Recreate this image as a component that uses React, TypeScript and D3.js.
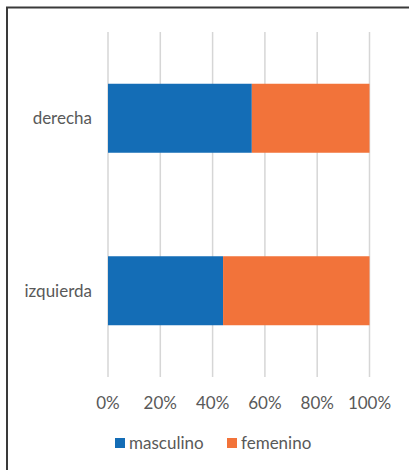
import React from "react";
import * as d3 from "d3";

const categories = ["derecha", "izquierda"];
const seriesNames = ["masculino", "femenino"];
const masculino = [0.55, 0.44];
const femenino = [0.45, 0.56];
const tickValues = [0, 0.2, 0.4, 0.6, 0.8, 1.0];
const colors = ["#146db6", "#f2733a"];

const W = 409;
const H = 470;
const FONT = "Lato, 'Open Sans', sans-serif";
const TEXT = "#595959";

export default function App() {
  const x = d3.scaleLinear().domain([0, 1]).range([108, 369.5]);
  const y = d3.scaleBand<string>().domain(categories).range([32, 377]).padding(0);
  const barH = y.bandwidth() * 0.4;
  const rows = categories.map((c, i) => ({ c, vals: [masculino[i], femenino[i]] }));
  const fmt = d3.format(".0%");

  return (
    <svg width={W} height={H} style={{ position: "absolute", left: 0, top: 0, display: "block" }} fontFamily={FONT}>
      <rect x={0} y={0} width={W} height={H} fill="#ffffff" />
      <rect x={7} y={7.5} width={W + 20} height={H + 20} fill="#ffffff" stroke="#3a3a3a" strokeWidth={2} />
      {tickValues.map((t) => (
        <line key={t} x1={x(t)} x2={x(t)} y1={32} y2={377} stroke="#d6d6d6" strokeWidth={1.5} />
      ))}
      {rows.map((r) => {
        let acc = 0;
        const yc = (y(r.c) as number) + y.bandwidth() / 2;
        return (
          <g key={r.c}>
            {r.vals.map((v, j) => {
              const x0 = x(acc);
              acc += v;
              const x1 = x(acc);
              return <rect key={j} x={x0} y={yc - barH / 2} width={x1 - x0} height={barH} fill={colors[j]} />;
            })}
            <text x={92} y={yc} dy="0.35em" textAnchor="end" fontSize={17} fill={TEXT}>
              {r.c}
            </text>
          </g>
        );
      })}
      {tickValues.map((t) => (
        <text key={"t" + t} x={x(t)} y={403} dy="0.35em" textAnchor="middle" fontSize={17} fill={TEXT}>
          {fmt(t)}
        </text>
      ))}
      <g>
        <rect x={115} y={438} width={10} height={10} fill={colors[0]} />
        <text x={129} y={443.5} dy="0.35em" fontSize={17} fill={TEXT}>
          {seriesNames[0]}
        </text>
        <rect x={227} y={438} width={10} height={10} fill={colors[1]} />
        <text x={241} y={443.5} dy="0.35em" fontSize={17} fill={TEXT}>
          {seriesNames[1]}
        </text>
      </g>
    </svg>
  );
}
